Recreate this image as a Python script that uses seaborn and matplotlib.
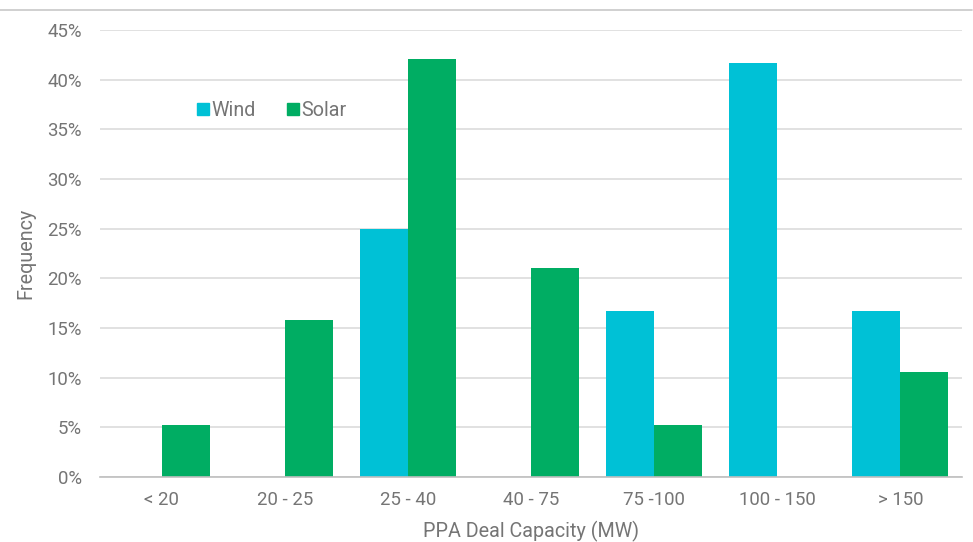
import matplotlib
matplotlib.use("Agg")
import matplotlib.pyplot as plt
import seaborn as sns
import pandas as pd
from matplotlib.ticker import FuncFormatter, MultipleLocator
from matplotlib.lines import Line2D

categories = ["< 20", "20 - 25", "25 - 40", "40 - 75", "75 -100", "100 - 150", "> 150"]
wind = [0, 0, 25.0, 0, 16.67, 41.67, 16.67]
solar = [5.26, 15.79, 42.11, 21.05, 5.26, 0, 10.53]
series = ["Wind", "Solar"]
colors = {"Wind": "#00C1D6", "Solar": "#00AD63"}

df = pd.DataFrame({
    "cat": categories * 2,
    "series": ["Wind"] * len(categories) + ["Solar"] * len(categories),
    "val": wind + solar,
})

sns.set_theme(style="white")
plt.rcParams["font.family"] = ["Roboto", "DejaVu Sans"]
txt = "#757575"

fig = plt.figure(figsize=(9.73, 5.42), dpi=100)
ax = fig.add_axes([100/973, 65/542, 862/973, 447/542])

sns.barplot(data=df, x="cat", y="val", hue="series", order=categories,
            hue_order=series, palette=colors, width=0.78, saturation=1,
            linewidth=0, edgecolor="none", ax=ax, legend=False)

ax.set_ylim(0, 45)
ax.set_xlim(-0.5, len(categories) - 0.5)
ax.yaxis.set_major_locator(MultipleLocator(5))
ax.yaxis.set_major_formatter(FuncFormatter(lambda v, p: f"{v:.0f}%"))
ax.grid(axis="y", color="#D9D9D9", linewidth=1.1)
ax.set_axisbelow(True)
for s in ["top", "right", "left"]:
    ax.spines[s].set_visible(False)
ax.spines["bottom"].set_color("#BFBFBF")
ax.spines["bottom"].set_linewidth(1.2)
ax.tick_params(axis="both", length=0, labelsize=13.4, labelcolor=txt)
ax.tick_params(axis="y", pad=13)
ax.tick_params(axis="x", pad=10)
ax.set_xlabel("PPA Deal Capacity (MW)", fontsize=14.2, color=txt, labelpad=9)
ax.set_ylabel("Frequency", fontsize=14.2, color=txt, labelpad=9)

handles = [Line2D([], [], marker="s", linestyle="none", markersize=8,
                  markerfacecolor=colors[s], markeredgecolor=colors[s]) for s in series]
leg = ax.legend(handles, series, loc="center left", bbox_to_anchor=(0.09, 0.821),
                ncol=2, frameon=False, fontsize=14.2, handletextpad=-0.1,
                columnspacing=1.4, handlelength=1.0, borderpad=0.3)
for t in leg.get_texts():
    t.set_color(txt)

fig.add_artist(Line2D([0, 972/973], [1 - 10/542, 1 - 10/542], color="#C8C8C8",
                      linewidth=1.2, transform=fig.transFigure))

fig.savefig("out.png", dpi=100)
